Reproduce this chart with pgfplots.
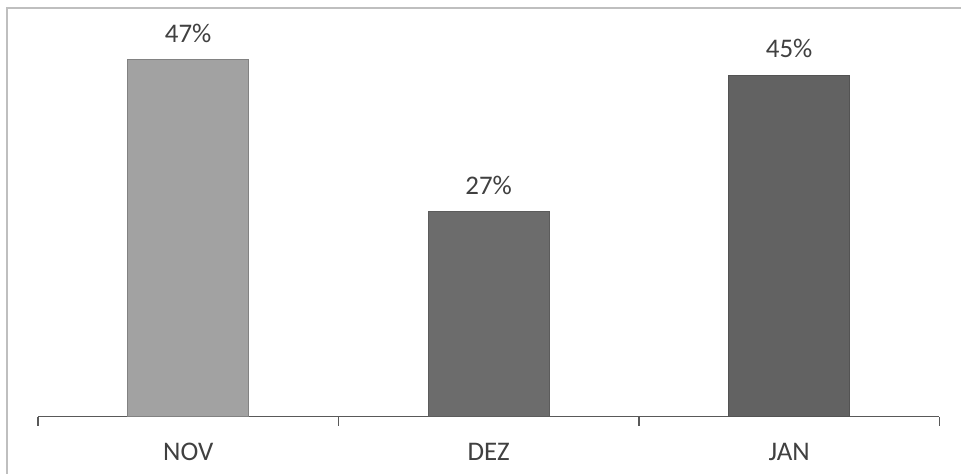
\documentclass[border=0pt]{standalone}
\usepackage{pgfplots}
\pgfplotsset{compat=1.18}
\usepackage{fontspec}
\setmainfont{Carlito}

\definecolor{txt}{HTML}{404040}
\definecolor{barnov}{HTML}{A2A2A2}
\definecolor{bardez}{HTML}{6C6C6C}
\definecolor{barjan}{HTML}{626262}

\begin{document}
\begin{tikzpicture}
\begin{axis}[
    scale only axis,
    width=451bp, height=190bp,
    ymin=0, ymax=50,
    xmin=-0.5, xmax=2.5,
    axis x line=bottom,
    axis y line=none,
    x axis line style={-, gray!70!black, line width=0.6pt},
    xtick={0,1,2},
    xticklabels={NOV,DEZ,JAN},
    major x tick style={draw=none},
    minor xtick={-0.5,0.5,1.5,2.5},
    minor tick length=4.5bp,
    minor x tick style={gray!70!black, line width=0.6pt},
    tick align=outside,
    /pgf/number format/assume math mode=true,
    xticklabel style={anchor=base, yshift=-17.5bp, text=txt, font=\fontsize{13.5}{16}\selectfont},
    ybar, bar width=60.5bp, bar shift=0pt,
    clip=false,
    nodes near coords={\pgfmathprintnumber{\pgfplotspointmeta}\%},
    nodes near coords style={anchor=base, yshift=8.5bp, text=txt, font=\fontsize{13.5}{16}\selectfont},
]
\addplot[fill=barnov, draw=barnov!80!black] coordinates {(0,47)};
\addplot[fill=bardez, draw=bardez!85!black] coordinates {(1,27)};
\addplot[fill=barjan, draw=barjan!85!black] coordinates {(2,45)};
\path (rel axis cs:-0.04213,-0.15526) rectangle (rel axis cs:1.02439,1.09737);
\draw[gray!50, line width=0.6pt] (rel axis cs:-0.03437,-0.15) -- (rel axis cs:-0.03437,1.07632) -- (rel axis cs:1.02439,1.07632);
\end{axis}
\end{tikzpicture}
\end{document}
